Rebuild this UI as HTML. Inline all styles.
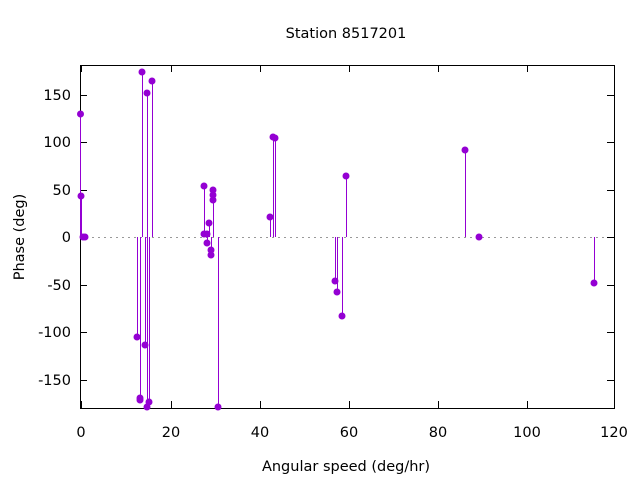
<!DOCTYPE html>
<html><head><style>body{margin:0;background:#fff}svg{display:block}text{font-family:"DejaVu Sans","Liberation Sans",sans-serif;font-size:14.5px;fill:#000}</style></head>
<body>
<svg width="640" height="480" xmlns="http://www.w3.org/2000/svg">
<line x1="80" y1="237.5" x2="614" y2="237.5" stroke="#999" stroke-dasharray="2,4"/>
<g stroke="#000" stroke-width="1" shape-rendering="crispEdges">
<rect x="80.5" y="65.5" width="534" height="343" fill="none"/>
<path d="M80 380.5h7M80 332.5h7M80 285.5h7M80 237.5h7M80 190.5h7M80 142.5h7M80 95.5h7M614 380.5h-7M614 332.5h-7M614 285.5h-7M614 237.5h-7M614 190.5h-7M614 142.5h-7M614 95.5h-7M81.5 408v-7M171.5 408v-7M260.5 408v-7M349.5 408v-7M438.5 408v-7M527.5 408v-7M81.5 65v7M171.5 65v7M260.5 65v7M349.5 65v7M438.5 65v7M527.5 65v7"/>
</g>
<g text-anchor="end">
<text x="71" y="385">-150</text><text x="71" y="337">-100</text><text x="71" y="290">-50</text><text x="71" y="242">0</text><text x="71" y="195">50</text><text x="71" y="147">100</text><text x="71" y="100">150</text>
</g>
<g text-anchor="middle">
<text x="81" y="437">0</text><text x="171" y="437">20</text><text x="260" y="437">40</text><text x="349" y="437">60</text><text x="438" y="437">80</text><text x="527" y="437">100</text><text x="614" y="437">120</text>
<text x="346" y="471">Angular speed (deg/hr)</text>
<text x="346" y="38">Station 8517201</text>
<text transform="translate(24,237) rotate(-90)">Phase (deg)</text>
</g>
<g stroke="#9400d3" stroke-width="1" fill="#9400d3">
<path shape-rendering="crispEdges" d="M80.5 237V114M81.5 237V196M137.5 237V337M140.5 237V399M142.5 237V72M145.5 237V345M147.5 237V93M147.5 237V407M149.5 237V402M152.5 237V81M204.5 237V186M207.5 237V243M209.5 237V223M211.5 237V255M213.5 237V190M218.5 237V407M270.5 237V217M273.5 237V137M275.5 237V138M335.5 237V281M337.5 237V292M342.5 237V316M346.5 237V176M465.5 237V150M594.5 237V283"/>
<g stroke="none">
<circle cx="80.5" cy="114" r="3.5"/><circle cx="81" cy="196" r="3.5"/><circle cx="83" cy="237" r="3.5"/><circle cx="85" cy="237" r="3.5"/>
<circle cx="137" cy="337" r="3.5"/><circle cx="140" cy="398" r="3.5"/><circle cx="140" cy="400" r="3.5"/><circle cx="142" cy="72" r="3.5"/><circle cx="145" cy="345" r="3.5"/><circle cx="147" cy="93" r="3.5"/><circle cx="147" cy="407" r="3.5"/><circle cx="149" cy="402" r="3.5"/><circle cx="152" cy="81" r="3.5"/>
<circle cx="204" cy="186" r="3.5"/><circle cx="204" cy="234" r="3.5"/><circle cx="207" cy="234" r="3.5"/><circle cx="207" cy="243" r="3.5"/><circle cx="209" cy="223" r="3.5"/><circle cx="211" cy="250" r="3.5"/><circle cx="211" cy="255" r="3.5"/><circle cx="213" cy="190" r="3.5"/><circle cx="213" cy="195" r="3.5"/><circle cx="213" cy="200" r="3.5"/><circle cx="218" cy="407" r="3.5"/>
<circle cx="270" cy="217" r="3.5"/><circle cx="273" cy="137" r="3.5"/><circle cx="275" cy="138" r="3.5"/>
<circle cx="335" cy="281" r="3.5"/><circle cx="337" cy="292" r="3.5"/><circle cx="342" cy="316" r="3.5"/><circle cx="346" cy="176" r="3.5"/>
<circle cx="465" cy="150" r="3.5"/><circle cx="479" cy="237" r="3.5"/><circle cx="594" cy="283" r="3.5"/>
</g></g>
</svg>
</body></html>
